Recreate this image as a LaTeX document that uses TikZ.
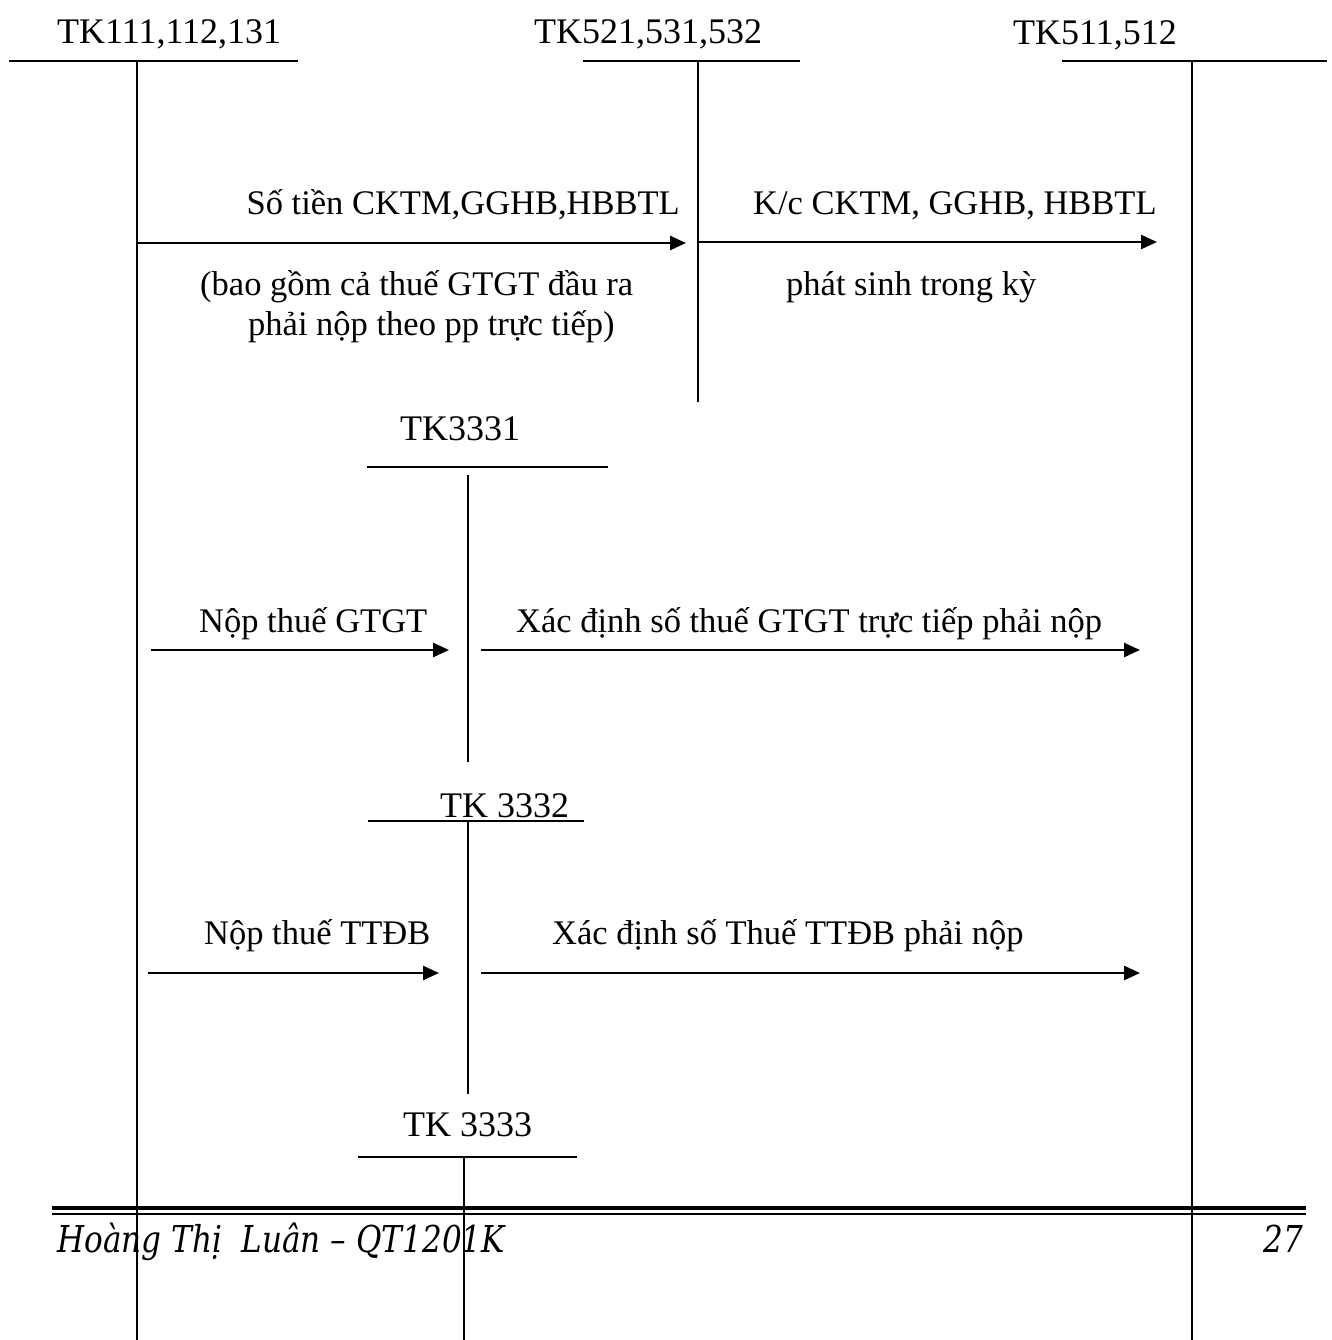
\documentclass[tikz,border=0pt]{standalone}
\usepackage{fontspec}
\setmainfont{Liberation Serif}
\newfontfamily\footfont[FakeStretch=0.84]{DejaVu Serif}
\usetikzlibrary{arrows.meta}
\begin{document}
\begin{tikzpicture}[x=1pt,y=-1pt,
  acct/.style={line width=2.2pt},
  flow/.style={line width=2.6pt,-{Triangle[length=16pt,width=14pt]}},
  head/.style={inner sep=0pt,anchor=base west,font=\fontsize{36}{40}\selectfont},
  lbl/.style={inner sep=0pt,anchor=base west,font=\fontsize{34.5}{40}\selectfont},
  foot/.style={inner sep=0pt,anchor=base west,font=\footfont\itshape\fontsize{37}{42}\selectfont}]
\useasboundingbox (0,0) rectangle (1331,1340);
\fill[white] (0,0) rectangle (1331,1340);

% account headings
\node[head] (h1) at (57,44) {TK111,112,131};
\node[head] (h2) at (534,44) {TK521,531,532};
\node[head] (h3) at (1013,45) {TK511,512};
\node[head] (h4) at (400,440) {TK3331};
\node[head] (h5) at (440,817) {TK 3332};
\node[head] (h6) at (403,1136) {TK 3333};

% T-account lines
\coordinate (a1l) at (9,61);   \coordinate (a1r) at (298,61);
\coordinate (a1t) at (137,61); \coordinate (a1b) at (137,1340);
\coordinate (a2l) at (583,61); \coordinate (a2r) at (800,61);
\coordinate (a2t) at (698,61); \coordinate (a2b) at (698,402);
\coordinate (a3l) at (1062,61); \coordinate (a3r) at (1327,61);
\coordinate (a3t) at (1192,61); \coordinate (a3b) at (1192,1340);
\coordinate (a4l) at (367,467); \coordinate (a4r) at (608,467);
\coordinate (a4t) at (468,475); \coordinate (a4b) at (468,762);
\coordinate (a5l) at (368,821); \coordinate (a5r) at (584,821);
\coordinate (a5t) at (468,821); \coordinate (a5b) at (468,1094);
\coordinate (a6l) at (358,1157); \coordinate (a6r) at (577,1157);
\coordinate (a6t) at (464,1157); \coordinate (a6b) at (464,1340);
\foreach \i in {1,...,6} {
  \draw[acct] (a\i l) -- (a\i r);
  \draw[acct] (a\i t) -- (a\i b);
}

% flows
\coordinate (f1s) at (137,243); \coordinate (f1e) at (686,243);
\coordinate (f2s) at (698,242); \coordinate (f2e) at (1157,242);
\coordinate (f3s) at (151,650); \coordinate (f3e) at (449,650);
\coordinate (f4s) at (481,650); \coordinate (f4e) at (1140,650);
\coordinate (f5s) at (148,973); \coordinate (f5e) at (439,973);
\coordinate (f6s) at (481,973); \coordinate (f6e) at (1140,973);
\foreach \i in {1,...,6} { \draw[flow] (f\i s) -- (f\i e); }

% labels
\node[lbl,anchor=base east] (l1) at (680,215) {Số tiền CKTM,GGHB,HBBTL};
\node[lbl] (l2) at (200,295) {(bao gồm cả thuế GTGT đầu ra};
\node[lbl] (l3) at (248,335) {phải nộp theo pp trực tiếp)};
\node[lbl] (l4) at (753,215) {K/c CKTM, GGHB, HBBTL};
\node[lbl] (l5) at (786,295) {phát sinh trong kỳ};
\node[lbl] (l6) at (199,632) {Nộp thuế GTGT};
\node[lbl] (l7) at (516,632) {Xác định số thuế GTGT trực tiếp phải nộp};
\node[lbl] (l8) at (204,944) {Nộp thuế TTĐB};
\node[lbl] (l9) at (552,944) {Xác định số Thuế TTĐB phải nộp};

% footer
\coordinate (d1l) at (52,1208); \coordinate (d1r) at (1306,1208);
\coordinate (d2l) at (52,1214); \coordinate (d2r) at (1306,1214);
\draw[line width=4pt] (d1l) -- (d1r);
\draw[line width=1.8pt] (d2l) -- (d2r);
\node[foot] (ft) at (57,1252) {Hoàng Thị\ \ Luân – QT1201K};
\node[foot,anchor=base east] (pg) at (1303,1252) {27};
\end{tikzpicture}
\end{document}
